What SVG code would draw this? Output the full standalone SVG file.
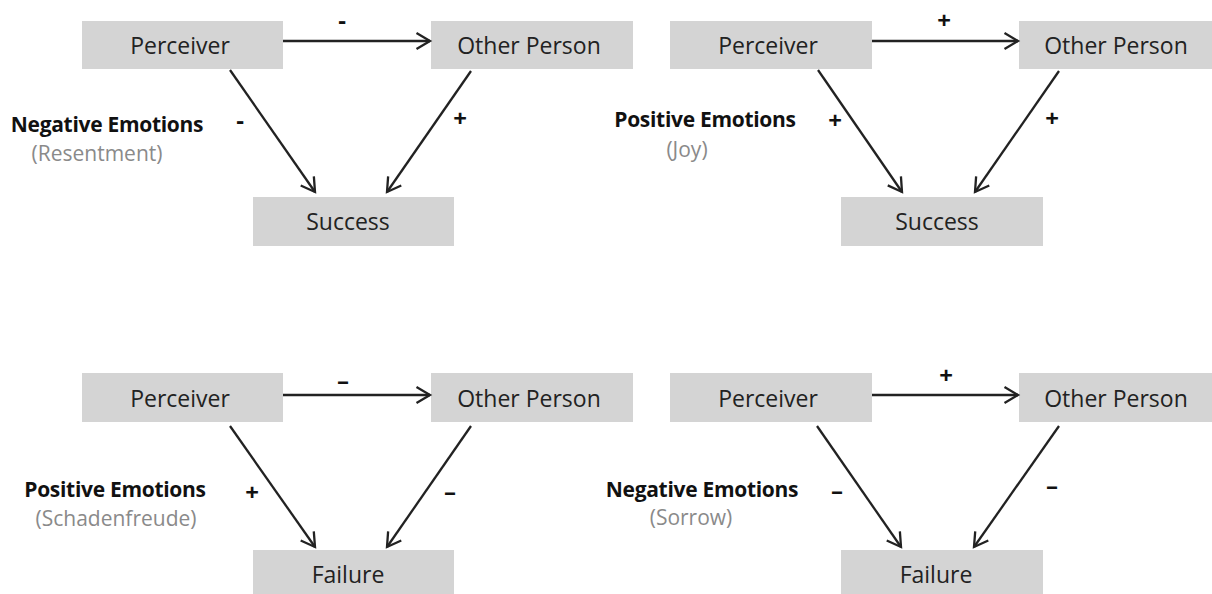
<svg xmlns="http://www.w3.org/2000/svg" width="1212" height="594" viewBox="0 0 1212 594">
<style>
.box{fill:#d4d4d4}
.lbl{font-family:"Open Sans","Noto Sans",sans-serif;font-size:23px;fill:#222;text-anchor:middle}
.emo{font-family:"Open Sans","Noto Sans",sans-serif;font-size:21px;font-weight:bold;fill:#111;text-anchor:middle;letter-spacing:-0.3px}
.sub{font-family:"Open Sans","Noto Sans",sans-serif;font-size:21px;fill:#8a8a8a;text-anchor:middle}
.sign{font-family:"Open Sans","Noto Sans",sans-serif;font-size:24px;font-weight:bold;fill:#111;text-anchor:middle}
.edge{stroke:#222;stroke-width:2.3;fill:none;marker-end:url(#arr)}
</style>
<defs>
<marker id="arr" markerUnits="userSpaceOnUse" markerWidth="18" markerHeight="20" refX="15" refY="9.5" orient="auto">
<path d="M1.5,1.5 L15,9.5 L1.5,17.5" fill="none" stroke="#222" stroke-width="2.3"/>
</marker>
</defs>
<rect width="1212" height="594" fill="#fff"/>

<!-- Panel 1 -->
<g id="p1-perceiver"><rect class="box" x="82" y="21" width="201" height="48"/><text class="lbl" x="180" y="54">Perceiver</text></g>
<g id="p1-other"><rect class="box" x="431" y="21" width="202" height="48"/><text class="lbl" x="529" y="54">Other Person</text></g>
<g id="p1-success"><rect class="box" x="253" y="197" width="201" height="49"/><text class="lbl" x="348" y="230">Success</text></g>
<g id="p1-emotion"><text class="emo" x="107" y="132">Negative Emotions</text><text class="sub" x="97" y="161">(Resentment)</text></g>

<!-- Panel 2 -->
<g id="p2-perceiver"><rect class="box" x="670" y="21" width="202" height="48"/><text class="lbl" x="768" y="54">Perceiver</text></g>
<g id="p2-other"><rect class="box" x="1019" y="21" width="202" height="48"/><text class="lbl" x="1116" y="54">Other Person</text></g>
<g id="p2-success"><rect class="box" x="841" y="197" width="202" height="49"/><text class="lbl" x="937" y="230">Success</text></g>
<g id="p2-emotion"><text class="emo" x="705" y="127">Positive Emotions</text><text class="sub" x="687" y="157">(Joy)</text></g>

<!-- Panel 3 -->
<g id="p3-perceiver"><rect class="box" x="82" y="373" width="201" height="49"/><text class="lbl" x="180" y="407">Perceiver</text></g>
<g id="p3-other"><rect class="box" x="431" y="373" width="202" height="49"/><text class="lbl" x="529" y="407">Other Person</text></g>
<g id="p3-failure"><rect class="box" x="253" y="550" width="201" height="48"/><text class="lbl" x="348" y="583">Failure</text></g>
<g id="p3-emotion"><text class="emo" x="115" y="497">Positive Emotions</text><text class="sub" x="116" y="526">(Schadenfreude)</text></g>

<!-- Panel 4 -->
<g id="p4-perceiver"><rect class="box" x="670" y="373" width="202" height="49"/><text class="lbl" x="768" y="407">Perceiver</text></g>
<g id="p4-other"><rect class="box" x="1019" y="373" width="202" height="49"/><text class="lbl" x="1116" y="407">Other Person</text></g>
<g id="p4-failure"><rect class="box" x="841" y="550" width="202" height="48"/><text class="lbl" x="936" y="583">Failure</text></g>
<g id="p4-emotion"><text class="emo" x="702" y="497">Negative Emotions</text><text class="sub" x="691" y="525">(Sorrow)</text></g>

<g id="connectors">
<line class="edge" x1="283" y1="41" x2="430" y2="41"/>
<line class="edge" x1="230" y1="70" x2="315" y2="192"/>
<line class="edge" x1="471" y1="71" x2="387" y2="192"/>
<line class="edge" x1="872" y1="41" x2="1018" y2="41"/>
<line class="edge" x1="818" y1="70" x2="902" y2="192"/>
<line class="edge" x1="1059" y1="71" x2="975" y2="192"/>
<line class="edge" x1="283" y1="395" x2="430" y2="395"/>
<line class="edge" x1="230" y1="426" x2="315" y2="547"/>
<line class="edge" x1="471" y1="426" x2="387" y2="547"/>
<line class="edge" x1="872" y1="395" x2="1018" y2="395"/>
<line class="edge" x1="817" y1="426" x2="901" y2="547"/>
<line class="edge" x1="1059" y1="426" x2="974" y2="547"/>
</g>

<g id="signs">
<text class="sign" x="342" y="29">-</text>
<text class="sign" x="240" y="129">-</text>
<text class="sign" x="460" y="127">+</text>
<text class="sign" x="944" y="29">+</text>
<text class="sign" x="835" y="129">+</text>
<text class="sign" x="1052" y="127">+</text>
<text class="sign" x="343" y="389">–</text>
<text class="sign" x="252" y="501">+</text>
<text class="sign" x="450" y="500">–</text>
<text class="sign" x="946" y="384">+</text>
<text class="sign" x="837" y="499">–</text>
<text class="sign" x="1052" y="494">–</text>
</g>
</svg>
